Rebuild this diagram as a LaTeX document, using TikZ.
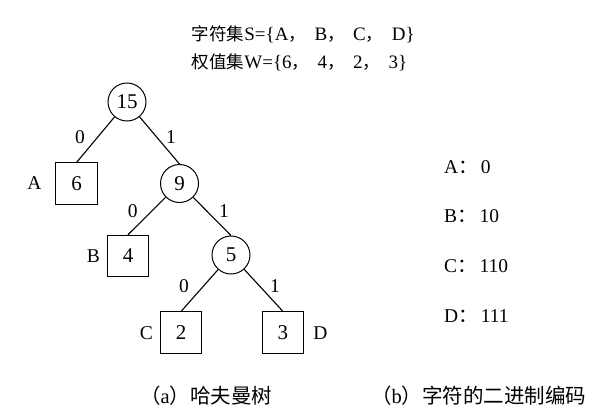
\documentclass[tikz,border=0pt]{standalone}
\usepackage{fontspec}
\setmainfont{Liberation Serif}
\newfontfamily\cjk{Noto Sans CJK SC}
\newcommand\zhsmall[1]{{\cjk\fontsize{17.5}{20}\selectfont #1}}
\begin{document}
\begin{tikzpicture}[x=1pt,y=-1pt,
  every node/.style={inner sep=0pt, font=\fontsize{19.5}{22}\selectfont},
  inode/.style={circle, draw, line width=1pt, minimum size=38pt, font=\fontsize{21}{24}\selectfont},
  leaf/.style={rectangle, draw, line width=1pt, minimum size=41.5pt, font=\fontsize{21}{24}\selectfont},
  edgeline/.style={line width=1.1pt},
  txt/.style={anchor=base west},
  toptxt/.style={txt, font=\fontsize{19}{22}\selectfont},
  codetxt/.style={txt, font=\fontsize{19.5}{22}\selectfont},
  captxt/.style={txt, font=\fontsize{20.5}{24}\selectfont}]
\useasboundingbox (0,0) rectangle (612,415);

% title lines
\node[toptxt] (t1) at (191.7,40.5) {\zhsmall{字符集}S=\{A\zhsmall{，}\hspace{8.5pt}B\zhsmall{，}\hspace{8.5pt}C\zhsmall{，}\hspace{8.5pt}D\}};
\node[toptxt] (t2) at (191.7,68.5) {\zhsmall{权值集}W=\{6\zhsmall{，}\hspace{8.5pt}4\zhsmall{，}\hspace{8.5pt}2\zhsmall{，}\hspace{8.5pt}3\}};

% tree nodes
\node[inode] (n15) at (127,102) {15};
\node[inode] (n9) at (179.5,183.5) {9};
\node[inode] (n5) at (231,255) {5};
\node[leaf] (l6) at (76.7,183.5) {6};
\node[leaf] (l4) at (128,256) {4};
\node[leaf] (l2) at (181.2,332.5) {2};
\node[leaf] (l3) at (282.8,332.5) {3};

% leaf names
\node (na) at (34.5,183.5) {A};
\node (nb) at (93.4,256.5) {B};
\node (nc) at (146.5,333) {C};
\node (nd) at (320.5,333) {D};

% edges
\draw[edgeline] (n15) -- (l6.north);
\draw[edgeline] (n15) -- (n9.north);
\draw[edgeline] (n9) -- (l4.north);
\draw[edgeline] (n9) -- (n5.north);
\draw[edgeline] (n5) -- (l2.north);
\draw[edgeline] (n5) -- (l3.north);

% edge labels
\node (e1) at (80,137.5) {0};
\node (e2) at (171,137.5) {1};
\node (e3) at (132.7,210.7) {0};
\node (e4) at (224,210.7) {1};
\node (e5) at (184,286.5) {0};
\node (e6) at (275,286.5) {1};

% codes
\node[codetxt] (ca) at (444,173) {A{\cjk ：}\hspace{3pt}0};
\node[codetxt] (cb) at (444,222) {B{\cjk ：}\hspace{3pt}10};
\node[codetxt] (cc) at (444,272.5) {C{\cjk ：}\hspace{3pt}110};
\node[codetxt] (cd) at (444,322) {D{\cjk ：}\hspace{3pt}111};

% captions
\node[captxt] (cap1) at (140,403) {{\cjk （}a{\cjk ）哈夫曼树}};
\node[captxt] (cap2) at (371,403) {{\cjk （}b{\cjk ）字符的二进制编码}};
\end{tikzpicture}
\end{document}
